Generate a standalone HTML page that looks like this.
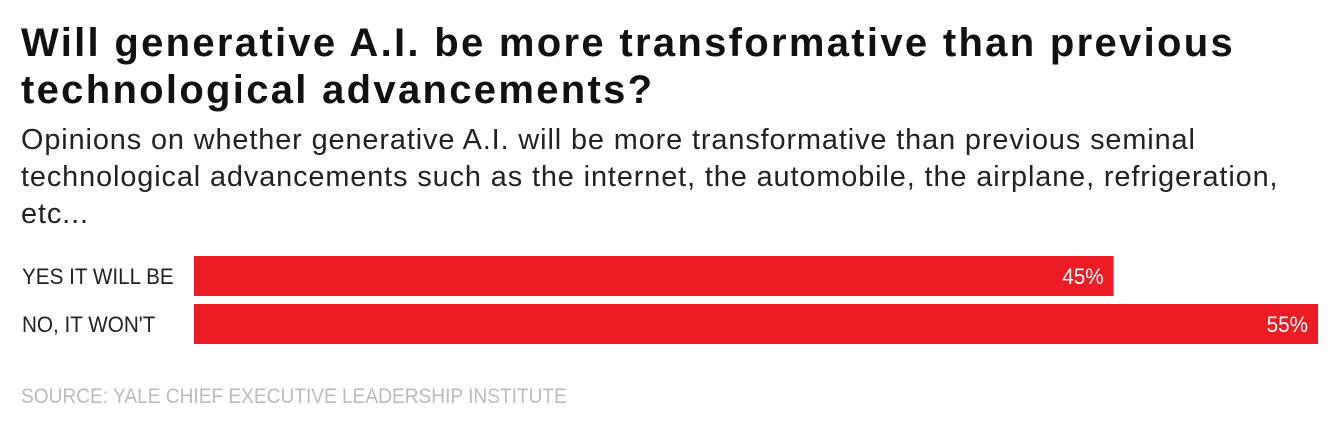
<!DOCTYPE html>
<html><head><meta charset="utf-8">
<style>
body{margin:0;width:1340px;height:432px;background:#fff;overflow:hidden;font-family:"Liberation Sans",sans-serif;}
#title{position:absolute;left:21px;top:20px;font-size:40px;font-weight:bold;line-height:47px;color:#111;margin:0;letter-spacing:2.3px;white-space:nowrap;}
#sub{position:absolute;left:21px;top:122px;font-size:29px;line-height:37px;color:#222;letter-spacing:0.9px;white-space:nowrap;transform:scaleX(0.995);transform-origin:left;}
#src{position:absolute;left:21px;top:385px;font-size:21px;color:#bbb;transform:scaleX(0.91);transform-origin:left;white-space:nowrap;}
svg{position:absolute;left:0;top:0;}
</style></head><body>
<h1 id="title">Will generative A.I. be more transformative than previous<br>technological advancements?</h1>
<div id="sub">Opinions on whether generative A.I. will be more transformative than previous seminal<br>technological advancements such as the internet, the automobile, the airplane, refrigeration,<br>etc...</div>
<svg id="chart" width="1340" height="432"></svg>
<div id="src">SOURCE: YALE CHIEF EXECUTIVE LEADERSHIP INSTITUTE</div>
<script>
const categories = ["YES IT WILL BE", "NO, IT WON'T"];
const values = [45, 55];
const valueLabels = ["45%", "55%"];
const NS = "http://www.w3.org/2000/svg";
const svg = document.getElementById("chart");
const x0 = 194, x1 = 1318, maxV = 55;
function xScale(v){ return x0 + (x1 - x0) * v / maxV; }
const top0 = 256, step = 48, barH = 40;
function yScale(i){ return top0 + i * step; }
categories.forEach((c, i) => {
  const y = yScale(i);
  const lab = document.createElementNS(NS, "text");
  
  
  lab.setAttribute("transform", "translate(22," + (y + barH/2 + 8) + ") scale(0.94,1)");
  lab.setAttribute("font-family", "Liberation Sans, sans-serif");
  lab.setAttribute("font-size", "22"); lab.setAttribute("fill", "#222");
  lab.textContent = c; svg.appendChild(lab);
  const r = document.createElementNS(NS, "rect");
  
  
  r.setAttribute("x", x0); r.setAttribute("y", y);
  r.setAttribute("width", xScale(values[i]) - x0); r.setAttribute("height", barH);
  r.setAttribute("fill", "#ed1c24"); svg.appendChild(r);
  const t = document.createElementNS(NS, "text");
  
  
  t.setAttribute("transform", "translate(" + (xScale(values[i]) - 10) + "," + (y + barH/2 + 8) + ") scale(0.94,1)");
  t.setAttribute("text-anchor", "end");
  t.setAttribute("font-family", "Liberation Sans, sans-serif");
  t.setAttribute("font-size", "22"); t.setAttribute("fill", "#fff");
  t.textContent = valueLabels[i]; svg.appendChild(t);
});
</script>
</body></html>
